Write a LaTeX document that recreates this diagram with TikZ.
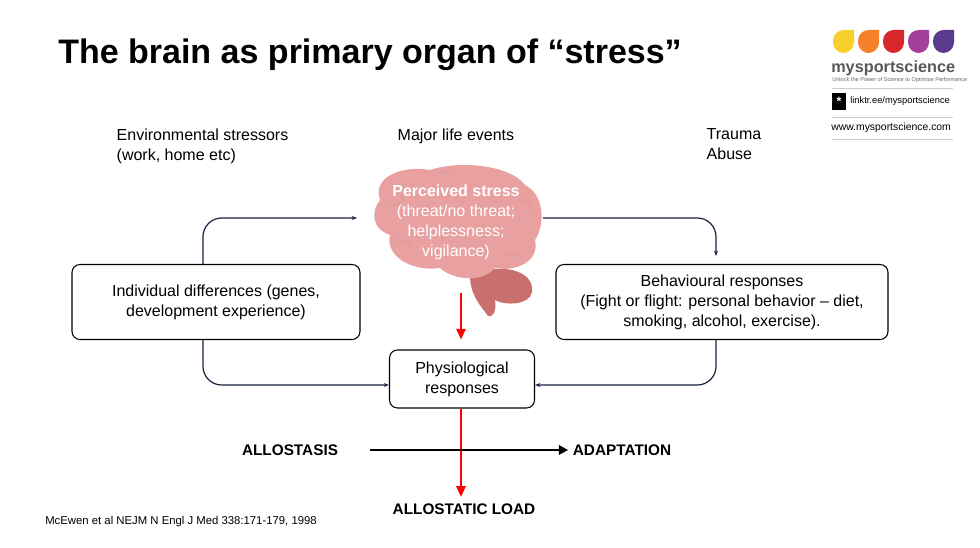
\documentclass[tikz,border=0pt]{standalone}
\usepackage{fontspec}
\setmainfont{Liberation Sans}
\usetikzlibrary{arrows.meta,calc,positioning}
\definecolor{brainpink}{HTML}{E8A0A0}
\definecolor{braindark}{HTML}{C9706F}
\definecolor{lineblue}{HTML}{1A2340}
\definecolor{dropA}{HTML}{F7D02C}
\definecolor{dropB}{HTML}{F5822A}
\definecolor{dropC}{HTML}{D8262A}
\definecolor{dropD}{HTML}{A4409C}
\definecolor{dropE}{HTML}{5A3A8C}
\tikzset{
	px/.style={x=0.75pt,y=-0.75pt},
	resp/.style={draw,thick,rounded corners=6pt,align=center,font=\fontsize{12}{15}\selectfont},
	txt/.style={align=left,font=\fontsize{12}{15}\selectfont},
	flow/.style={draw=lineblue,line width=0.9pt,-{Stealth[length=4pt]},rounded corners=14pt},
	hot/.style={draw=red,line width=1.4pt,-{Triangle[length=8pt,width=7pt]}},
	tag/.style={font=\bfseries\fontsize{11.5}{14}\selectfont}
}
\begin{document}
\begin{tikzpicture}[px]
\useasboundingbox[fill=white] (0,0) rectangle (980,548);
% title
\node[anchor=west,inner sep=0pt,font=\bfseries\fontsize{25.5}{30}\selectfont] (title) at (58,55) {The brain as primary organ of “stress”};
% logo
\foreach \c [count=\i] in {dropA,dropB,dropC,dropD,dropE}
  \fill[\c,rounded corners=8pt] ({829+\i*25},30) -- ({808+\i*25},30) -- ({808+\i*25},53) -- ({829+\i*25},53) [sharp corners] -- cycle;
\node[font=\bfseries\fontsize{12.2}{13}\selectfont,text=black!65,anchor=west,inner sep=0pt] (brand) at (831,68) {mysportscience};
\node[font=\fontsize{4.2}{5}\selectfont,text=black!60,anchor=west,inner sep=0pt] (slogan) at (832,80) {Unlock the Power of Science to Optimise Performance};
\draw[black!20] (832,88) -- (953,88) (832,117) -- (953,117) (832,139) -- (953,139);
\fill[black] (832,93) rectangle (846,110);
\node[text=white,font=\bfseries\small,inner sep=0pt] (icon) at (839,101.5) {*};
\node[font=\fontsize{7}{8}\selectfont,anchor=west,inner sep=0pt] (link) at (850,101.5) {linktr.ee/mysportscience};
\node[font=\fontsize{7.8}{9}\selectfont,anchor=west,inner sep=0pt] (www) at (831,128) {www.mysportscience.com};
% stressors
\node[txt,anchor=north west] (env) at (112,124) {Environmental stressors\\(work, home etc)};
\node[txt,anchor=north west] (life) at (393,124) {Major life events};
\node[txt,anchor=north west] (trauma) at (702,124) {Trauma\\Abuse};
% brain
\fill[braindark] (470,275) .. controls (500,262) and (535,270) .. (532,292) .. controls (530,305) and (505,306) .. (495,300) .. controls (497,312) and (492,318) .. (488,316) .. controls (480,305) and (470,295) .. cycle;
\fill[brainpink] (380,200) .. controls (372,178) and (400,165) .. (430,170) .. controls (460,160) and (510,165) .. (525,185) .. controls (545,195) and (545,225) .. (535,240) .. controls (540,262) and (515,272) .. (495,268) .. controls (480,285) and (450,278) .. (440,268) .. controls (410,272) and (385,255) .. (390,235) .. controls (370,228) and (372,210) .. cycle;
\foreach \a/\b/\c/\d in {388/205/402/195, 520/200/530/215, 395/240/410/250, 505/255/520/250, 440/172/455/178}
  \draw[braindark!70,line width=0.6pt] (\a,\b) .. controls (\c,\b) .. (\c,\d);
\node[align=center,text=white,font=\fontsize{12}{15}\selectfont] (stress) at (456,222) {\textbf{Perceived stress}\\(threat/no threat;\\helplessness;\\vigilance)};
% boxes
\node[resp,minimum width=288pt*0.75,minimum height=75*0.75pt] (indiv) at (216,302) {Individual differences (genes,\\development experience)};
\node[resp,minimum width=332*0.75pt,minimum height=75*0.75pt] (behav) at (722,302) {Behavioural responses\\(Fight or flight: personal behavior – diet,\\smoking, alcohol, exercise).};
\node[resp,minimum width=145*0.75pt,minimum height=58*0.75pt] (phys) at (462,379) {Physiological\\responses};
% loops
\coordinate (inTop) at (357,218);
\coordinate (outTop) at (543,218);
\draw[flow] (indiv.north -| 203,0) |- (inTop);
\draw[flow] (indiv.south -| 203,0) |- (phys.west |- 0,385);
\draw[flow] (outTop) -| ($(behav.north -| 716,0)+(0,-8)$);
\draw[flow] (behav.south -| 716,0) |- (phys.east |- 0,385);
% red arrows
\coordinate (brainBase) at (461,293);
\draw[hot] (brainBase) -- ($(phys.north -| brainBase)+(0,-10)$);
\node[tag] (load) at (464,509) {ALLOSTATIC LOAD};
\draw[hot] (phys.south -| brainBase) -- ($(load.north -| brainBase)+(0,-2)$);
% allostasis
\node[tag] (allo) at (290,450) {ALLOSTASIS};
\node[tag] (adapt) at (622,450) {ADAPTATION};
\draw[line width=1.6pt,-{Triangle[length=7pt,width=7pt]}] (370,450) -- (adapt.west);
\node[anchor=west,inner sep=0pt,font=\fontsize{8.5}{10}\selectfont] (ref) at (45,522) {McEwen et al NEJM N Engl J Med 338:171-179, 1998};
\end{tikzpicture}
\end{document}
